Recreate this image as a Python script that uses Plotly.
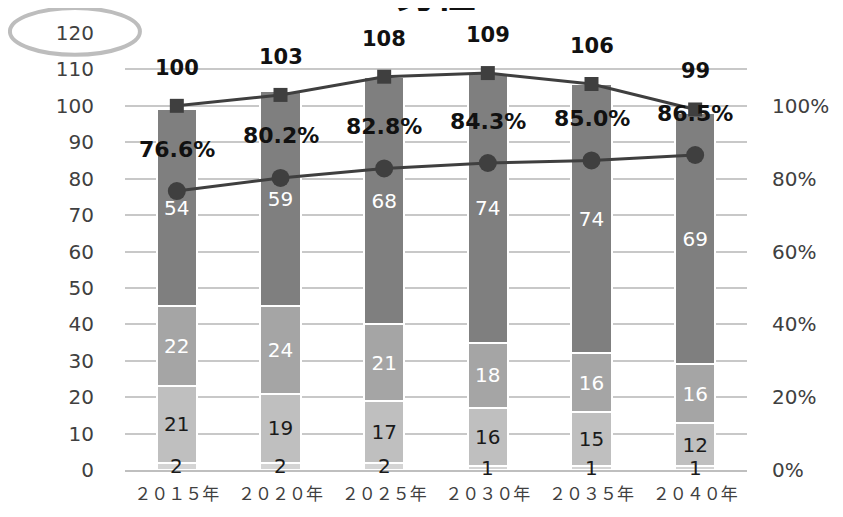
import plotly.graph_objects as go

years = ["２０１５年", "２０２０年", "２０２５年", "２０３０年", "２０３５年", "２０４０年"]
seg1 = [2, 2, 2, 1, 1, 1]
seg2 = [21, 19, 17, 16, 15, 12]
seg3 = [22, 24, 21, 18, 16, 16]
seg4 = [54, 59, 68, 74, 74, 69]
totals = [100, 103, 108, 109, 106, 99]
ratio = [0.766, 0.802, 0.828, 0.843, 0.850, 0.865]
ratio_labels = ["76.6%", "80.2%", "82.8%", "84.3%", "85.0%", "86.5%"]

seg_colors = ["#d4d4d4", "#bfbfbf", "#a5a5a5", "#7f7f7f"]
seg_text_colors = ["#1a1a1a", "#1a1a1a", "#ffffff", "#ffffff"]
line_color = "#3f3f3f"
tick_font = dict(family="DejaVu Sans", size=20, color="#404040")
seg_font = dict(family="DejaVu Sans", size=20)

fig = go.Figure()
for i, (vals, col, tcol) in enumerate(zip([seg1, seg2, seg3, seg4], seg_colors, seg_text_colors)):
    fig.add_trace(go.Bar(
        x=years, y=vals, marker=dict(color=col, line=dict(color="white", width=2)),
        text=None if i == 0 else [str(v) for v in vals],
        textposition="none" if i == 0 else "inside", insidetextanchor="middle",
        textangle=0, constraintext="none",
        textfont=dict(seg_font, color=tcol),
        width=0.39, showlegend=False, hoverinfo="skip",
    ))

# labels of the thin bottom segment (too thin to hold inside text)
for xv, v in zip(years, seg1):
    fig.add_annotation(x=xv, y=v / 2, yref="y", text=str(v), showarrow=False,
                       font=dict(seg_font, color="#1a1a1a"))

fig.add_trace(go.Scatter(
    x=years, y=totals, mode="lines+markers",
    line=dict(color=line_color, width=3),
    marker=dict(symbol="square", size=14, color=line_color),
    showlegend=False,
))
fig.add_trace(go.Scatter(
    x=years, y=ratio, yaxis="y2", mode="lines+markers",
    line=dict(color=line_color, width=3),
    marker=dict(symbol="circle", size=18, color=line_color),
    showlegend=False,
))

for xv, tv in zip(years, totals):
    fig.add_annotation(x=xv, y=tv, yref="y", text=f"<b>{tv}</b>", showarrow=False,
                       yshift=38, font=dict(family="DejaVu Sans", size=21, color="#111111"))
for xv, rv, rl in zip(years, ratio, ratio_labels):
    fig.add_annotation(x=xv, y=rv, yref="y2", text=f"<b>{rl}</b>", showarrow=False,
                       yshift=42, font=dict(family="DejaVu Sans", size=22, color="#111111"))

# title, cropped at the top edge as in the reference
fig.add_annotation(xref="paper", yref="paper", x=0.5, y=1.0, yanchor="bottom", yshift=12,
                   text="<b>男性</b>", showarrow=False,
                   font=dict(family="Noto Sans CJK JP", size=40, color="#111111"))

# highlighted ellipse around the 120 tick
fig.add_shape(type="circle", xref="paper", yref="paper",
              x0=-0.185, x1=0.024, y0=0.95, y1=1.057,
              line=dict(color="#bdbdbd", width=4))

fig.update_layout(
    width=835, height=509,
    margin=dict(l=117, r=96, t=25, b=41),
    paper_bgcolor="white", plot_bgcolor="white",
    barmode="stack", bargap=0.61,
    uniformtext=dict(minsize=20, mode="show"),
    xaxis=dict(showgrid=False, showline=True, linecolor="#bfbfbf", linewidth=2,
               ticks="", tickfont=dict(family="Noto Sans CJK JP", size=17, color="#404040"),
               ticklabelstandoff=8),
    yaxis=dict(range=[0, 120], dtick=10, showgrid=True, gridcolor="#c8c8c8", gridwidth=2,
               zeroline=False, tickfont=tick_font, ticklabelstandoff=30),
    yaxis2=dict(range=[0, 1.2], overlaying="y", side="right", showgrid=False, zeroline=False,
                tickvals=[0, 0.2, 0.4, 0.6, 0.8, 1.0],
                ticktext=["0%", "20%", "40%", "60%", "80%", "100%"],
                tickfont=tick_font, ticklabelstandoff=24),
)

fig.write_html("out.html")
